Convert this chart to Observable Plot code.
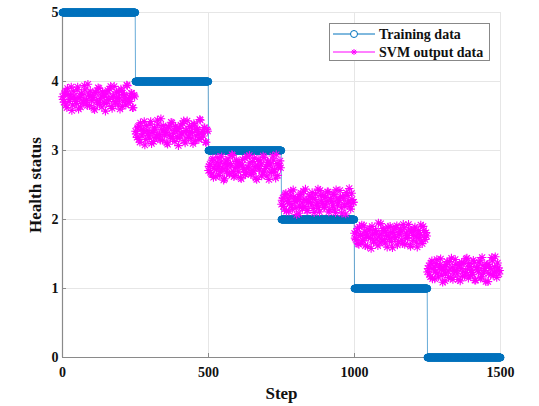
<!DOCTYPE html>
<html><head><meta charset="utf-8">
<script src="https://cdn.jsdelivr.net/npm/d3@7"></script>
<script src="https://cdn.jsdelivr.net/npm/@observablehq/plot@0.6"></script>
<style>
body{margin:0;background:#fff;}
#wrap{position:relative;width:539px;height:406px;font-family:"Liberation Serif","Times New Roman",serif;}
#wrap svg{font-family:"Liberation Serif","Times New Roman",serif;}
#legend{position:absolute;left:329px;top:23px;}
g[aria-label="x-axis tick label"], g[aria-label="y-axis tick label"]{font-size:14px;font-weight:bold;}
g[aria-label="x-axis label"], g[aria-label="y-axis label"]{font-size:17px;font-weight:bold;}
</style></head><body><div id="wrap"></div>
<script>
// Training data: health status level of each stage and where each stage starts
const stageLevels = [5, 4, 3, 2, 1, 0];
const stageStarts = [0, 250, 500, 750, 1000, 1250];
const lastStep = 1500;

// SVM output data, read every 5 steps within each stage (steps 0,5,10,...)
const svmSpacing = 5;
const svmStage1 = [3.78,3.70,3.85,3.62,3.81,3.74,3.92,3.66,3.79,3.71,3.88,3.60,3.76,3.83,3.69,3.94,3.73,3.65,3.80,3.86,3.72,3.77,3.59,3.84,3.70,3.90,3.75,3.63,3.82,3.78,3.68,3.87,3.74,3.93,3.61,3.79,3.71,3.85,3.67,3.76,3.89,3.64,3.81,3.73,3.95,3.69,3.77,3.83,3.62,3.80];
const svmStage2 = [3.28,3.19,3.35,3.12,3.31,3.24,3.42,3.16,3.29,3.21,3.38,3.10,3.26,3.33,3.19,3.44,3.23,3.15,3.30,3.36,3.22,3.27,3.09,3.34,3.20,3.40,3.25,3.13,3.32,3.28,3.18,3.37,3.24,3.43,3.11,3.29,3.21,3.35,3.17,3.26,3.39,3.14,3.31,3.23,3.45,3.19,3.27,3.33,3.12,3.30];
const svmStage3 = [2.71,2.80,2.66,2.88,2.74,2.62,2.83,2.77,2.69,2.91,2.73,2.59,2.85,2.78,2.67,2.81,2.94,2.70,2.64,2.86,2.76,2.82,2.61,2.79,2.72,2.89,2.68,2.75,2.93,2.65,2.84,2.70,2.77,2.58,2.87,2.73,2.80,2.66,2.90,2.74,2.63,2.83,2.78,2.69,2.92,2.72,2.60,2.81,2.76,2.85];
const svmStage4 = [2.22,2.31,2.15,2.38,2.26,2.12,2.34,2.20,2.43,2.27,2.17,2.30,2.09,2.36,2.24,2.41,2.19,2.28,2.13,2.33,2.25,2.39,2.16,2.29,2.21,2.44,2.11,2.35,2.23,2.18,2.32,2.26,2.40,2.14,2.28,2.20,2.37,2.10,2.30,2.24,2.42,2.17,2.33,2.22,2.08,2.35,2.27,2.19,2.38,2.25];
const svmStage5 = [1.80,1.71,1.87,1.64,1.78,1.92,1.69,1.83,1.75,1.61,1.85,1.73,1.90,1.67,1.79,1.82,1.62,1.76,1.94,1.70,1.84,1.66,1.77,1.89,1.72,1.81,1.59,1.86,1.74,1.91,1.68,1.79,1.83,1.65,1.88,1.73,1.77,1.93,1.63,1.82,1.70,1.86,1.75,1.60,1.84,1.78,1.69,1.90,1.74,1.81];
const svmStage6 = [1.24,1.33,1.17,1.40,1.28,1.14,1.36,1.22,1.30,1.43,1.19,1.27,1.11,1.35,1.25,1.39,1.16,1.31,1.21,1.42,1.26,1.13,1.34,1.29,1.18,1.37,1.23,1.44,1.15,1.32,1.27,1.20,1.38,1.12,1.30,1.24,1.41,1.17,1.33,1.26,1.10,1.35,1.22,1.29,1.45,1.19,1.31,1.25,1.37,1.21];
// SVM output data read in between (steps 2,7,12,...)
const svmMidOffset = 2;
const svmStage1Mid = [3.74,3.83,3.66,3.90,3.71,3.79,3.58,3.86,3.75,3.68,3.92,3.77,3.63,3.81,3.70,3.88,3.73,3.96,3.65,3.80,3.76,3.61,3.84,3.72,3.91,3.67,3.79,3.85,3.70,3.57,3.82,3.74,3.89,3.64,3.78,3.93,3.69,3.76,3.84,3.60,3.87,3.72,3.80,3.66,3.94,3.75,3.71,3.83,3.62,3.78];
const svmStage2Mid = [3.24,3.33,3.16,3.40,3.21,3.29,3.08,3.36,3.25,3.18,3.42,3.27,3.13,3.31,3.20,3.38,3.23,3.46,3.15,3.30,3.26,3.11,3.34,3.22,3.41,3.17,3.29,3.35,3.20,3.07,3.32,3.24,3.39,3.14,3.28,3.43,3.19,3.26,3.34,3.10,3.37,3.22,3.30,3.16,3.44,3.25,3.21,3.33,3.12,3.28];
const svmStage3Mid = [2.77,2.68,2.86,2.61,2.79,2.72,2.90,2.64,2.83,2.74,2.57,2.81,2.70,2.88,2.66,2.78,2.93,2.62,2.75,2.84,2.69,2.80,2.59,2.87,2.73,2.65,2.91,2.76,2.82,2.67,2.71,2.89,2.60,2.79,2.74,2.85,2.63,2.92,2.70,2.77,2.83,2.58,2.80,2.68,2.86,2.72,2.94,2.64,2.78,2.75];
const svmStage4Mid = [2.28,2.19,2.36,2.12,2.30,2.23,2.41,2.15,2.33,2.26,2.07,2.31,2.20,2.38,2.16,2.29,2.44,2.13,2.25,2.34,2.21,2.32,2.10,2.37,2.24,2.17,2.42,2.27,2.35,2.18,2.22,2.40,2.11,2.30,2.26,2.36,2.14,2.43,2.21,2.28,2.33,2.09,2.31,2.19,2.39,2.23,2.45,2.15,2.29,2.25];
const svmStage5Mid = [1.73,1.82,1.65,1.89,1.77,1.70,1.91,1.62,1.80,1.74,1.86,1.58,1.78,1.69,1.84,1.72,1.95,1.66,1.79,1.87,1.71,1.83,1.60,1.76,1.90,1.68,1.81,1.75,1.88,1.63,1.78,1.85,1.70,1.93,1.64,1.80,1.73,1.86,1.61,1.82,1.77,1.89,1.67,1.79,1.74,1.92,1.65,1.84,1.71,1.76];
const svmStage6Mid = [1.29,1.20,1.37,1.14,1.31,1.24,1.42,1.17,1.34,1.27,1.09,1.32,1.22,1.39,1.16,1.28,1.44,1.13,1.26,1.35,1.21,1.33,1.11,1.38,1.25,1.18,1.43,1.28,1.36,1.19,1.23,1.41,1.12,1.30,1.27,1.37,1.15,1.45,1.22,1.29,1.34,1.10,1.32,1.20,1.40,1.24,1.46,1.16,1.30,1.26];
const svmStages = [svmStage1, svmStage2, svmStage3, svmStage4, svmStage5, svmStage6];
const svmStagesMid = [svmStage1Mid, svmStage2Mid, svmStage3Mid, svmStage4Mid, svmStage5Mid, svmStage6Mid];

const xTicks = [0, 500, 1000, 1500];
const yTicks = [0, 1, 2, 3, 4, 5];
const seriesNames = ["Training data", "SVM output data"];

const blue = "#0072BD", magenta = "#FF00FF";

// 8-armed asterisk (MATLAB style)
const asterisk8 = {
  draw(ctx, size) {
    const r = Math.sqrt(size / Math.PI);
    const d = r * Math.SQRT1_2;
    ctx.moveTo(-r, 0); ctx.lineTo(r, 0);
    ctx.moveTo(0, -r); ctx.lineTo(0, r);
    ctx.moveTo(-d, -d); ctx.lineTo(d, d);
    ctx.moveTo(-d, d); ctx.lineTo(d, -d);
  }
};

// Build tables
const training = [];
stageLevels.forEach((lvl, s) => {
  const end = s + 1 < stageStarts.length ? stageStarts[s + 1] : lastStep + 1;
  for (let x = stageStarts[s]; x < end; x++) training.push({x, y: lvl});
});
const svm = [];
svmStages.forEach((vals, s) => vals.forEach((v, i) => svm.push({x: stageStarts[s] + i * svmSpacing, y: v})));
svmStagesMid.forEach((vals, s) => vals.forEach((v, i) => svm.push({x: stageStarts[s] + svmMidOffset + i * svmSpacing, y: v})));

const chart = Plot.plot({
  width: 539, height: 406,
  marginLeft: 62, marginRight: 39, marginTop: 12, marginBottom: 49,
  style: {background: "#fff", color: "#111"},
  x: {domain: [0, lastStep]},
  y: {domain: [0, 5]},
  marks: [
    Plot.ruleX(xTicks.slice(1), {stroke: "#e6e6e6", strokeWidth: 1}),
    Plot.ruleY(yTicks.slice(1), {stroke: "#e6e6e6", strokeWidth: 1}),
    Plot.ruleX([0], {stroke: "#8a8a8a", strokeWidth: 1.2}),
    Plot.ruleY([0], {stroke: "#8a8a8a", strokeWidth: 1.2}),
    Plot.axisX({ticks: xTicks, tickFormat: d => String(d), tickSize: -4, tickPadding: 14, stroke: "#8a8a8a", label: "Step", labelArrow: "none", labelAnchor: "center", labelOffset: 41, fill: "#111"}),
    Plot.axisY({ticks: yTicks, tickFormat: d => String(d), tickSize: -4, tickPadding: 8, stroke: "#8a8a8a", label: "Health status", labelAnchor: "center", labelArrow: "none", labelOffset: 34, fill: "#111"}),
    Plot.line(training, {x: "x", y: "y", stroke: blue, strokeWidth: 0.8, strokeOpacity: 0.75}),
    Plot.dot(training, {x: "x", y: "y", r: 3.5, fill: blue, stroke: blue, strokeWidth: 1}),
    Plot.dot(svm, {x: "x", y: "y", symbol: asterisk8, r: 4.3, stroke: magenta, strokeWidth: 1.1})
  ]
});
const wrap = document.getElementById("wrap");
wrap.appendChild(chart);

// Legend
const lg = d3.create("svg").attr("id", "legend").attr("width", 162).attr("height", 39);
lg.append("rect").attr("x", 0.5).attr("y", 0.5).attr("width", 160).attr("height", 37).attr("fill", "#fff").attr("stroke", "#888");
const rows = [
  {name: seriesNames[0], color: blue, sym: "circle"},
  {name: seriesNames[1], color: magenta, sym: "asterisk"}
];
rows.forEach((r, i) => {
  const cy = 11 + i * 18;
  lg.append("line").attr("x1", 4).attr("x2", 46).attr("y1", cy).attr("y2", cy).attr("stroke", r.color).attr("stroke-width", 1);
  if (r.sym === "circle") {
    lg.append("circle").attr("cx", 25).attr("cy", cy).attr("r", 3.5).attr("fill", "#fff").attr("stroke", r.color).attr("stroke-width", 1);
  } else {
    lg.append("path").attr("transform", `translate(25,${cy})`).attr("d", d3.symbol(asterisk8, Math.PI * 9)()).attr("fill", "none").attr("stroke", r.color).attr("stroke-width", 1);
  }
  lg.append("text").attr("x", 50).attr("y", cy).attr("dy", "0.35em").attr("font-size", 14).attr("font-weight", "bold")
    .attr("font-family", '"Liberation Serif","Times New Roman",serif').attr("fill", "#111").text(r.name);
});
wrap.appendChild(lg.node());
</script></body></html>
